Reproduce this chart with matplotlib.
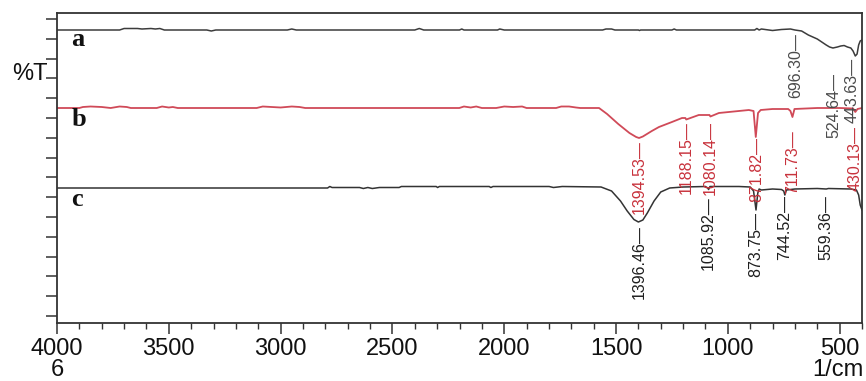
import matplotlib
matplotlib.use("Agg")
import matplotlib.pyplot as plt
import numpy as np

# ---------------- data (wavenumber in 1/cm, transmittance in arbitrary %T units) -------------
wn_a = [4000, 3720, 3700, 3640, 3620, 3580, 3560, 3540, 3520, 3330, 3310, 3290, 2970, 2950, 2930,
        2400, 2380, 2360, 2200, 2190, 2180, 2030, 2020, 2000, 1560, 1545, 1520, 1505, 1400, 1395,
        1390, 1250, 1240, 1230, 880, 870, 860, 850, 800, 760, 720, 700, 670, 640, 600, 560, 545,
        530, 510, 495, 480, 465, 450, 440, 430, 422, 415, 408, 400]
t_a = [293, 293, 294.5, 294.5, 294, 294.5, 294, 294.5, 293, 293, 292, 293, 293, 294, 293,
       293, 294.5, 293, 293, 294, 293, 293, 294, 293, 293, 294, 294, 293, 293, 292.5,
       293, 293, 294, 293, 293, 294.5, 293, 294, 292.5, 293.5, 294, 293, 292, 288, 284, 278, 276,
       275, 276, 277, 277.5, 276, 275, 272, 267, 269, 278, 282, 283]

wn_b = [4000, 3900, 3884, 3850, 3800, 3760, 3720, 3688, 3670, 3554, 3530, 3500, 3482, 3460,
        3107, 3080, 3040, 3000, 2950, 2915, 2890, 2201, 2180, 2150, 2125, 2100, 2036, 2000,
        1960, 1920, 1900, 1768, 1745, 1710, 1679, 1660, 1576, 1540, 1490, 1440, 1410, 1397,
        1380, 1340, 1308, 1250, 1205, 1190, 1186, 1130, 1082, 1078, 1040, 906, 885, 875, 865,
        853, 800, 730, 720, 711, 702, 600, 500, 440, 430, 420, 400]
t_b = [215, 215, 216, 216.5, 216, 215, 216.5, 216, 215, 215, 216.5, 215.5, 216, 215,
       215, 216.5, 216, 215.5, 216.5, 216, 215, 215, 216.5, 215.5, 216.5, 215, 215, 216.5,
       216, 216.5, 215, 215, 216.5, 216.5, 215.5, 215, 215, 209, 199, 190, 186, 185,
       186.5, 192, 196, 201, 205, 205, 203.5, 208, 208, 206.5, 210, 213, 212, 186, 210,
       213, 214, 214, 212, 206, 214, 215, 215, 214.5, 211, 214, 215]

wn_c = [4000, 2790, 2780, 2770, 2647, 2630, 2610, 2590, 2558, 2470, 2460, 2304, 2298, 2290,
        2067, 2060, 2050, 1799, 1780, 1760, 1741, 1567, 1520, 1480, 1450, 1420, 1400, 1380,
        1360, 1330, 1300, 1260, 1200, 1100, 1090, 1086, 1080, 950, 900, 885, 874, 866, 860,
        850, 800, 760, 750, 745, 738, 700, 600, 560, 550, 450, 425, 415, 408, 400]
t_c = [135, 135, 136.5, 135.5, 135.5, 134.5, 135.5, 134.5, 135.5, 135.5, 136.5, 136.5, 135.5, 136.5,
       136.5, 135.5, 136.5, 136.5, 135.5, 136, 136.5, 136, 132, 122, 112, 103.5, 101, 103,
       110, 122, 131, 135, 136, 136.5, 135, 133.5, 136.5, 136.5, 136, 132, 113, 130, 134,
       133, 134, 133.5, 132, 128, 133, 134, 134.5, 134, 134.5, 134, 133, 128, 118, 113]

series_names = ["a", "b", "c"]
series_label_y = [283, 203, 123]

peaks_a = [696.30, 524.64, 443.63]
peaks_a_top = [290, 250, 265]
peaks_b = [1394.53, 1188.15, 1080.14, 871.82, 711.73, 430.13]
peaks_b_top = [183, 202, 202, 186, 193, 197]
peaks_c = [1396.46, 1085.92, 873.75, 744.52, 559.36]
peaks_c_top = [98, 127, 111, 128, 128]

x_major = [4000, 3500, 3000, 2500, 2000, 1500, 1000, 500]

# ---------------- figure -------------
W, H, DPI = 866, 381, 100
fig = plt.figure(figsize=(W / DPI, H / DPI), dpi=DPI)
ax = fig.add_axes([57 / W, 1 - 323 / H, (862 - 57) / W, (323 - 13) / H])

col_a, col_b, col_c = "#3c3c3c", "#d04a58", "#333333"
ax.plot(wn_a, t_a, color=col_a, lw=1.1)
ax.plot(wn_b, t_b, color=col_b, lw=1.3)
ax.plot(wn_c, t_c, color=col_c, lw=1.1)

ax.set_xlim(4000, 400)
ax.set_ylim(0, 310)

lab_font = ["Liberation Sans", "DejaVu Sans"]
for vals, tops, col in [(peaks_a, peaks_a_top, "#4a4a4a"),
                        (peaks_b, peaks_b_top, "#c8323c"),
                        (peaks_c, peaks_c_top, "#1e1e1e")]:
    for v, t in zip(vals, tops):
        ax.text(v, t, f"{v:.2f}\u2014", rotation=90, ha="center", va="top",
                fontsize=11.5, color=col, family=lab_font)

for name, y in zip(series_names, series_label_y):
    ax.text(3935, y, name, fontsize=19, fontweight="bold", family=["Liberation Serif", "DejaVu Serif"],
            ha="left", va="center", color="#111111")

tick_font = ["Liberation Sans Narrow", "Liberation Sans", "DejaVu Sans"]
ax.set_xticks(x_major)
ax.set_xticklabels([str(v) for v in x_major], fontsize=17, family=tick_font, color="#111111")
ax.set_xticks(np.arange(4000, 399, -100), minor=True)
ax.set_yticks(np.arange(7, 310, 19.8))
ax.set_yticklabels([])
ax.tick_params(axis="x", which="major", direction="out", length=8, width=1.1, color="#333333", pad=3)
ax.tick_params(axis="x", which="minor", direction="out", length=4, width=1.0, color="#333333")
ax.tick_params(axis="y", which="major", direction="out", length=8, width=1.1, color="#333333")
for s in ax.spines.values():
    s.set_color("#333333")
    s.set_linewidth(1.3)

fig.text(30 / W, 1 - 74 / H, "%T", fontsize=17, family=tick_font, ha="center", va="center", color="#111111")
fig.text(57 / W, 1 - 370 / H, "6", fontsize=17, family=tick_font, ha="center", va="center", color="#111111")
fig.text(864 / W, 1 - 370 / H, "1/cm", fontsize=17, family=tick_font, ha="right", va="center", color="#111111")

fig.savefig("out.png", dpi=DPI)
